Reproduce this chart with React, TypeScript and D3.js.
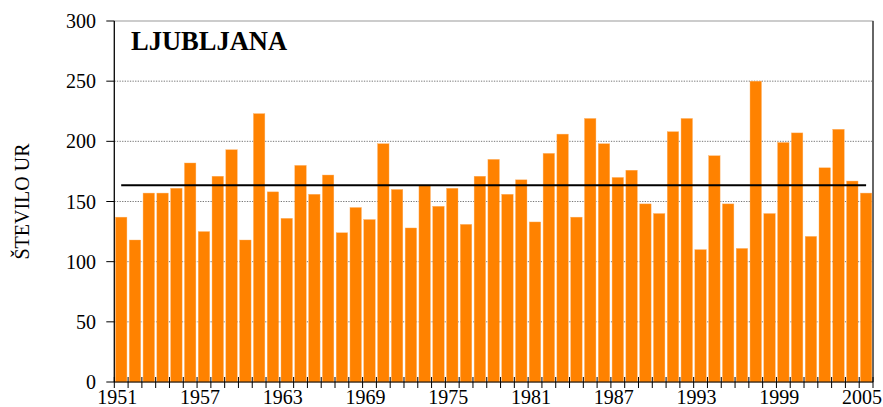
import React from "react";
import * as d3 from "d3";

const years: number[] = d3.range(1951, 2006);
const hours: number[] = [
  137, 118, 157, 157, 161, 182, 125, 171, 193, 118,
  223, 158, 136, 180, 156, 172, 124, 145, 135, 198,
  160, 128, 163, 146, 161, 131, 171, 185, 156, 168,
  133, 190, 206, 137, 219, 198, 170, 176, 148, 140,
  208, 219, 110, 188, 148, 111, 250, 140, 199, 207,
  121, 178, 210, 167, 157,
];
const meanValue = 163.5;
const yTicks: number[] = [0, 50, 100, 150, 200, 250, 300];
const xLabelYears: number[] = [1951, 1957, 1963, 1969, 1975, 1981, 1987, 1993, 1999, 2005];
const title = "LJUBLJANA";
const yTitle = "ŠTEVILO UR";

const W = 883;
const H = 407;
const left = 114.3;
const right = 873;
const top = 21;
const bottom = 382;
const FONT = "Liberation Serif";

export default function App() {
  const x = d3.scaleBand<number>().domain(years).range([left, right]).paddingInner(0.17).paddingOuter(0.085);
  const xb = d3.scaleBand<number>().domain(years).range([left, right]);
  const y = d3.scaleLinear().domain([0, 300]).range([bottom, top]);
  const step = xb.step();

  return (
    <svg width={W} height={H} fontFamily={FONT} style={{ position: "absolute", left: 0, top: 0, background: "#fff", fontFamily: FONT }}>
      <rect x={left} y={top} width={right - left} height={bottom - top} fill="#fff" stroke="#9a9a9a" strokeWidth={1} />
      <line x1={right} x2={right} y1={top} y2={bottom} stroke="#222" strokeWidth={1.2} />
      {yTicks.filter((t) => t > 0 && t < 300).map((t) => (
        <line key={"g" + t} x1={left} x2={right} y1={y(t)} y2={y(t)} stroke="#555" strokeWidth={0.8} strokeDasharray="1.3,1.3" />
      ))}
      {years.map((yr, i) => (
        <rect key={yr} x={x(yr)} y={y(hours[i])} width={x.bandwidth()} height={y(0) - y(hours[i])} fill="#ff8200" stroke="#ffb060" strokeWidth={0.4} />
      ))}
      <line
        x1={(xb(years[0]) as number) + step / 2}
        x2={(xb(years[years.length - 1]) as number) + step / 2}
        y1={y(meanValue)}
        y2={y(meanValue)}
        stroke="#000"
        strokeWidth={1.8}
      />
      <line x1={left} x2={left} y1={top} y2={bottom} stroke="#000" strokeWidth={1.2} />
      {yTicks.map((t) => (
        <line key={"yt" + t} x1={left - 8} x2={left} y1={y(t)} y2={y(t)} stroke="#000" strokeWidth={1} />
      ))}
      {yTicks.map((t) => (
        <text key={"yl" + t} x={96} y={y(t) + 7} textAnchor="end" fontFamily={FONT} fontSize={20} fill="#000">
          {t}
        </text>
      ))}
      <line x1={left} x2={right} y1={bottom} y2={bottom} stroke="#000" strokeWidth={1} />
      {d3.range(years.length + 1).map((k) => (
        <line key={"xt" + k} x1={left + k * step} x2={left + k * step} y1={bottom - 5} y2={bottom + 6} stroke="#000" strokeWidth={1} />
      ))}
      {xLabelYears.map((yr) => (
        <text key={"xl" + yr} x={(xb(yr) as number) + step / 2 - 4} y={404} textAnchor="middle" fontFamily={FONT} fontSize={20} fill="#000">
          {yr}
        </text>
      ))}
      <text x={131} y={50} fontFamily={FONT} fontWeight="bold" fontSize={26.5} fill="#000">
        {title}
      </text>
      <text
        transform={`translate(29, ${(top + bottom) / 2}) rotate(-90)`}
        textAnchor="middle"
        fontFamily={FONT}
        fontSize={20}
        fill="#000"
      >
        {yTitle}
      </text>
    </svg>
  );
}
